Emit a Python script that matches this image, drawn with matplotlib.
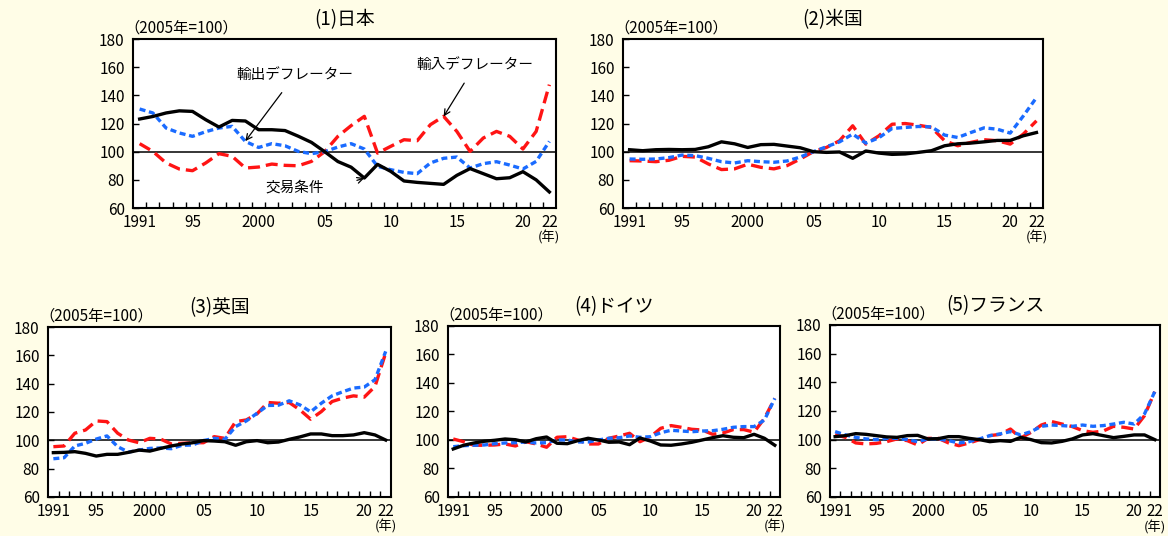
import numpy as np
import matplotlib.pyplot as plt

plt.rcParams['font.family'] = ['Noto Sans CJK JP', 'DejaVu Sans']

years = np.arange(1991, 2023)
tick_years = [1991, 1995, 2000, 2005, 2010, 2015, 2020, 2022]
tick_text = ['1991', '95', '2000', '05', '10', '15', '20', '22']

# (1) Japan
jp_tot = [123.2, 125, 127.5, 129, 128.6, 122.7, 117.5, 122.2, 121.8, 115.6, 115.6, 115, 111, 106.6, 100,
          93, 89, 81.3, 91, 86, 79.2, 78.2, 77.5, 76.8, 83.2, 88, 84.4, 80.8, 81.5, 85.8, 80, 71.4]
jp_exp = [130.3, 127.5, 116.8, 113.3, 110.9, 114.2, 116.8, 118, 107.3, 103, 105.7, 104.2, 100.2, 98.6, 100,
          103.3, 105.7, 101.9, 89.6, 87.2, 85.3, 84.4, 92, 95.3, 96.2, 88.4, 91.5, 92.9, 90.5, 87.7, 93.1, 107.3]
jp_imp = [105.7, 100.2, 92, 87.7, 86.5, 92, 98.6, 96.7, 88.4, 89.1, 91.2, 90.3, 90, 93.1, 100,
          110.9, 118.5, 125.1, 99, 103.8, 108.5, 107.8, 119.2, 125.1, 114.4, 100.2, 109.7, 114.4, 110.9, 101.9, 114.4, 147.6]

# (2) US
us_tot = [101.4, 100.7, 101.4, 101.6, 101.4, 101.6, 103.5, 107, 105.6, 103, 105, 105.2, 104, 102.8, 100,
          99.5, 99.8, 95.3, 100.5, 99, 98.1, 98.4, 99.5, 100.7, 104.2, 105.6, 106.1, 107, 108, 108, 111.3, 113.6]
us_exp = [94.8, 94.6, 94.8, 95.8, 97.6, 97.2, 95.3, 92.9, 92, 93.6, 92.9, 92.5, 93.4, 96.2, 100,
          103.5, 107, 112.5, 106.1, 109.9, 116.5, 117.2, 117.9, 117.6, 111.8, 110.1, 113.6, 116.9, 116, 113.2, 125.4, 138.4]
us_imp = [93.6, 93.4, 92.9, 93.9, 96.7, 96.2, 91.3, 87.3, 87.8, 91.1, 88.9, 87.8, 90.1, 94.8, 100,
          103, 107.8, 118.4, 105.4, 111.3, 119.5, 120, 118.8, 117.2, 107.8, 104.2, 106.6, 108.5, 107.8, 105.4, 112.5, 121.9]

# (3) UK
uk_tot = [91.3, 91.5, 92, 90.8, 88.9, 90.1, 90.1, 91.5, 93.1, 92.4, 94.3, 96, 97.4, 98.3, 99.8,
          99.5, 99, 96.5, 99, 99.8, 98.3, 98.8, 100.7, 102.4, 104.5, 104.5, 103.3, 103.3, 103.8, 105.4, 103.8, 100.2]
uk_exp = [87, 87.7, 96, 97.9, 100.9, 103.1, 95.5, 91.7, 93.1, 94.3, 94.6, 94.1, 96.5, 96.7, 99.8,
          101.4, 100.7, 109.7, 113.7, 119.1, 124.6, 124.8, 127.9, 125, 120.1, 126.2, 131.4, 134.3, 136.9, 137.6, 142.8, 162.8]
uk_imp = [95.5, 96, 105, 107.3, 113.7, 113.2, 105, 100.2, 98.3, 101.4, 100.9, 97.4, 97.9, 98.3, 98.3,
          102.6, 101.4, 113.2, 114.4, 118.7, 126.7, 126.2, 126.7, 121.5, 114.9, 120.3, 127.4, 129.8, 131.4, 130.5, 138, 161.7]

# (4) Germany
de_tot = [93.7, 96.3, 97.9, 99.1, 99.8, 100.7, 100.2, 98.6, 100.9, 102.1, 97.7, 97.4, 99.5, 101.2, 100,
          98.4, 98.6, 96.7, 101.4, 99.3, 96.5, 96.3, 97.2, 98.4, 100, 101.6, 103, 101.9, 101.6, 104, 101.2, 96.3]
de_exp = [95.3, 96, 96.3, 96.5, 97.4, 97.9, 98.1, 98.6, 97.9, 98.1, 100, 100, 98.6, 98.6, 100,
          101.2, 101.6, 102.8, 101.9, 102.3, 105.1, 106.8, 106.3, 105.8, 106.3, 106.5, 107.5, 108.9, 109.4, 109.4, 114, 129.2]
de_imp = [100.7, 98.8, 96.3, 96.3, 96.5, 97.2, 95.8, 98.8, 97.2, 94.9, 101.9, 102.3, 100, 97.2, 97.2,
          101.2, 102.8, 104.7, 98.8, 102.1, 108.2, 110.1, 108.9, 107.5, 107, 104, 104.9, 107.3, 107.3, 105.5, 115.2, 129.2]

# (5) France
fr_tot = [102.1, 102.8, 104.2, 103.7, 102.8, 101.9, 101.6, 102.8, 103, 100.5, 100.7, 102.1, 102.1, 100.9, 100,
          98.6, 99.3, 98.8, 101.6, 100, 97.9, 97.7, 98.8, 100.5, 103.3, 104.2, 102.8, 101.4, 102.3, 103.3, 103.3, 100]
fr_exp = [105.6, 103.3, 101.6, 100.5, 100, 100.9, 100.9, 100, 98.6, 100.5, 100.5, 99.3, 97.7, 98.6, 100.5,
          102.8, 104, 105.6, 103.3, 105.6, 109.3, 110.2, 109.8, 109.3, 110.2, 109.3, 109.8, 110.9, 112.1, 110.9, 117.9, 133.5]
fr_imp = [103.5, 101.6, 97.7, 97, 97.4, 98.6, 100.5, 99.3, 96.3, 100.9, 100.9, 97.7, 95.8, 97.7, 100,
          102.8, 103.7, 107.4, 101.2, 105.1, 110.2, 112.6, 110.9, 109.1, 106.3, 105.1, 106, 109.3, 108.6, 107.4, 116.7, 133.5]

panels = [
    ('(1)日本', jp_tot, jp_exp, jp_imp, [0.1139, 0.6119, 0.3621, 0.3153]),
    ('(2)米国', us_tot, us_exp, us_imp, [0.5334, 0.6119, 0.3596, 0.3153]),
    ('(3)英国', uk_tot, uk_exp, uk_imp, [0.0411, 0.0728, 0.2937, 0.3171]),
    ('(4)ドイツ', de_tot, de_exp, de_imp, [0.3836, 0.0728, 0.2842, 0.3190]),
    ('(5)フランス', fr_tot, fr_exp, fr_imp, [0.7106, 0.0728, 0.2825, 0.3209]),
]

bg = '#FFFDE7'
red = '#FF1414'
blue = '#1A6BFF'

fig = plt.figure(figsize=(11.68, 5.36), dpi=100, facecolor=bg)

axes = []
for title, tot, exp, imp, rect in panels:
    ax = fig.add_axes(rect)
    ax.set_facecolor('white')
    ax.axhline(100, color='black', lw=1.1, zorder=1)
    ax.plot(years, imp, color=red, lw=2.4, dashes=(3.6, 1.8), zorder=2)
    ax.plot(years, exp, color=blue, lw=2.4, dashes=(1.8, 1.1), zorder=3)
    ax.plot(years, tot, color='black', lw=2.4, zorder=4)
    ax.set_xlim(1990.5, 2022.5)
    ax.set_ylim(60, 180)
    ax.set_yticks(np.arange(60, 181, 20))
    ax.set_xticks(years[:-1] + 0.5)
    ax.set_xticklabels([])
    ax.set_xticks(tick_years, minor=True)
    ax.set_xticklabels(tick_text, minor=True)
    ax.tick_params(axis='x', which='major', direction='in', length=4, width=1)
    ax.tick_params(axis='x', which='minor', length=0, pad=4, labelsize=11)
    ax.tick_params(axis='y', direction='in', length=4, width=1, labelsize=11, pad=6)
    for s in ax.spines.values():
        s.set_linewidth(1.5)
    ax.text(0.5, 1.115, title, transform=ax.transAxes, ha='center', va='center', fontsize=13.5)
    dx = -9 / (rect[2] * 1168)
    ax.text(dx, 1.015, '（2005年=100）', transform=ax.transAxes, ha='left', va='bottom', fontsize=11)
    ax.text(2022, -0.175, '(年)', transform=ax.get_xaxis_transform(), ha='center', va='center', fontsize=9.5)
    axes.append(ax)

ax1 = axes[0]
ax1.annotate('輸出デフレーター', xy=(1999, 107.5), xytext=(2002.75, 154.4),
             ha='center', va='center', fontsize=10.5,
             arrowprops=dict(arrowstyle='->', color='black', lw=0.9, shrinkA=7, shrinkB=0))
ax1.annotate('輸入デフレーター', xy=(2014, 125), xytext=(2016.4, 161.5),
             ha='center', va='center', fontsize=10.5,
             arrowprops=dict(arrowstyle='->', color='black', lw=0.9, shrinkA=7, shrinkB=0))
ax1.annotate('交易条件', xy=(2008, 81.3), xytext=(2002.75, 74.9),
             ha='center', va='center', fontsize=10.5,
             arrowprops=dict(arrowstyle='->', color='black', lw=0.9, shrinkA=22, shrinkB=0,
                             connectionstyle='arc3,rad=0.1'))

fig.savefig('out.png', dpi=100, facecolor=bg)
